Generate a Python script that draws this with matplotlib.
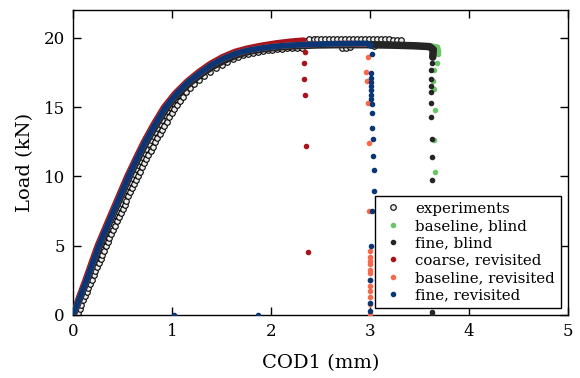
import matplotlib
matplotlib.use('Agg')
import matplotlib.pyplot as plt

# --- experiments (two overlapping rows of measured points) ---
exp_a_cod = [0.000, 0.017, 0.035, 0.052, 0.070, 0.087, 0.104, 0.122, 0.139, 0.157,
             0.174, 0.191, 0.209, 0.226, 0.244, 0.261, 0.278, 0.296, 0.315, 0.333,
             0.352, 0.370, 0.389, 0.408, 0.426, 0.445, 0.463, 0.482, 0.501, 0.519,
             0.538, 0.556, 0.575, 0.594, 0.614, 0.635, 0.656, 0.677, 0.698, 0.720,
             0.742, 0.764, 0.786, 0.808, 0.831, 0.853, 0.876, 0.900, 0.924, 0.949,
             0.975, 1.005, 1.037, 1.072, 1.110, 1.152, 1.198, 1.250, 1.305, 1.365,
             1.420, 1.480, 1.530, 1.585, 1.635, 1.690, 1.740, 1.790, 1.840, 1.890,
             1.940, 1.990, 2.040, 2.090, 2.140, 2.190, 2.240, 2.290, 2.340, 2.385,
             2.430, 2.470, 2.510, 2.550, 2.590, 2.630, 2.670, 2.710, 2.750, 2.790,
             2.830, 2.870, 2.910, 2.950, 2.990, 3.030, 3.070, 3.110, 3.150, 3.190,
             3.230, 3.270, 3.310]
exp_a_load = [0.0, 0.3, 0.6, 0.9, 1.2, 1.5, 1.8, 2.1, 2.4, 2.7,
              3.0, 3.3, 3.6, 3.9, 4.2, 4.5, 4.8, 5.1, 5.4, 5.7,
              6.0, 6.3, 6.6, 6.9, 7.2, 7.5, 7.8, 8.1, 8.4, 8.7,
              9.0, 9.3, 9.6, 9.9, 10.2, 10.5, 10.8, 11.1, 11.4, 11.7,
              12.0, 12.3, 12.6, 12.9, 13.2, 13.5, 13.8, 14.1, 14.4, 14.7,
              15.0, 15.3, 15.6, 15.9, 16.2, 16.5, 16.8, 17.1, 17.4, 17.7,
              17.95, 18.2, 18.4, 18.6, 18.75, 18.9, 19.0, 19.08, 19.15, 19.2,
              19.25, 19.29, 19.33, 19.37, 19.41, 19.46, 19.55, 19.67, 19.8, 19.88,
              19.9, 19.91, 19.92, 19.92, 19.93, 19.93, 19.93, 19.94, 19.94, 19.94,
              19.94, 19.94, 19.93, 19.93, 19.93, 19.92, 19.92, 19.91, 19.9, 19.89,
              19.87, 19.85, 19.82]

exp_b_cod = [0.050, 0.068, 0.085, 0.103, 0.120, 0.138, 0.155, 0.173, 0.190, 0.208,
             0.225, 0.243, 0.260, 0.278, 0.295, 0.313, 0.330, 0.349, 0.368, 0.387,
             0.406, 0.425, 0.444, 0.463, 0.482, 0.501, 0.520, 0.539, 0.558, 0.577,
             0.596, 0.615, 0.634, 0.654, 0.675, 0.696, 0.717, 0.739, 0.761, 0.783,
             0.805, 0.828, 0.851, 0.874, 0.897, 0.921, 0.945, 0.970, 0.995, 1.021,
             1.048, 1.078, 1.110, 1.145, 1.183, 1.225, 1.272, 1.325, 1.385, 1.440,
             1.500, 1.555, 1.615, 1.665, 1.715, 1.765, 1.815, 1.865, 1.915, 1.965,
             2.015, 2.065, 2.115, 2.165, 2.215, 2.265, 2.315, 2.720, 2.760, 2.800, 3.040]
exp_b_load = [0.15, 0.45, 0.75, 1.05, 1.35, 1.65, 1.95, 2.25, 2.55, 2.85,
              3.15, 3.45, 3.75, 4.05, 4.35, 4.65, 4.95, 5.25, 5.55, 5.85,
              6.15, 6.45, 6.75, 7.05, 7.35, 7.65, 7.95, 8.25, 8.55, 8.85,
              9.15, 9.45, 9.75, 10.05, 10.35, 10.65, 10.95, 11.25, 11.55, 11.85,
              12.15, 12.45, 12.75, 13.05, 13.35, 13.65, 13.95, 14.25, 14.55, 14.85,
              15.15, 15.45, 15.75, 16.05, 16.35, 16.65, 16.95, 17.25, 17.55, 17.8,
              18.05, 18.25, 18.45, 18.6, 18.73, 18.84, 18.93, 19.0, 19.06, 19.11,
              19.15, 19.18, 19.21, 19.23, 19.25, 19.26, 19.27, 19.25, 19.28, 19.3, 19.4]

# --- baseline, blind ---
bb_cod = [0.000, 0.072, 0.138, 0.204, 0.265, 0.340, 0.416, 0.492, 0.568, 0.652,
          0.740, 0.840, 0.948, 1.065, 1.185, 1.305, 1.420, 1.540, 1.660, 1.780,
          1.920, 2.080, 2.250, 2.450, 2.700, 2.950, 3.200, 3.450, 3.620, 3.680, 3.690]
bb_load = [0.0, 1.3, 2.5, 3.8, 5.0, 6.25, 7.5, 8.75, 10.0, 11.25,
           12.5, 13.75, 15.0, 16.0, 16.8, 17.45, 17.98, 18.42, 18.78, 19.02,
           19.2, 19.33, 19.42, 19.48, 19.5, 19.5, 19.47, 19.42, 19.38, 19.3, 19.0]
bb_drop_cod = [3.69, 3.68, 3.65, 3.64, 3.65, 3.66, 3.65, 3.66]
bb_drop_load = [18.8, 18.2, 17.7, 16.9, 16.3, 14.8, 12.6, 10.35]

# --- fine, blind ---
fb_cod = [0.000, 0.072, 0.138, 0.204, 0.265, 0.340, 0.416, 0.492, 0.568, 0.652,
          0.740, 0.840, 0.948, 1.065, 1.185, 1.305, 1.420, 1.540, 1.660, 1.780,
          1.920, 2.080, 2.250, 2.450, 2.700, 2.950, 3.200, 3.450, 3.600, 3.640, 3.635]
fb_load = [0.0, 1.3, 2.5, 3.8, 5.0, 6.25, 7.5, 8.75, 10.0, 11.25,
           12.5, 13.75, 15.0, 16.0, 16.8, 17.45, 17.98, 18.42, 18.78, 19.02,
           19.2, 19.33, 19.42, 19.48, 19.5, 19.5, 19.47, 19.42, 19.36, 19.15, 18.6]
fb_drop_cod = [3.63, 3.62, 3.62, 3.62, 3.62, 3.62, 3.62, 3.63, 3.63, 3.63,
               3.63, 3.63, 3.63, 3.63, 3.63]
fb_drop_load = [18.2, 17.7, 17.0, 16.5, 16.05, 15.3, 14.3, 12.7, 11.4, 9.75,
                7.0, 4.0, 2.0, 0.2, 0.0]

# --- coarse, revisited ---
cr_cod = [0.000, 0.060, 0.122, 0.186, 0.246, 0.320, 0.395, 0.470, 0.545, 0.628,
          0.714, 0.811, 0.917, 1.030, 1.150, 1.270, 1.390, 1.510, 1.635, 1.765,
          1.905, 2.055, 2.195, 2.330]
cr_load = [0.0, 1.3, 2.5, 3.8, 5.0, 6.25, 7.5, 8.75, 10.0, 11.25,
           12.5, 13.75, 15.0, 16.0, 16.85, 17.55, 18.15, 18.62, 19.0, 19.25,
           19.45, 19.62, 19.74, 19.82]
cr_drop_cod = [2.34, 2.33, 2.33, 2.34, 2.35, 2.37]
cr_drop_load = [19.0, 18.2, 17.0, 15.9, 12.2, 4.55]

# --- baseline, revisited ---
br_cod = [0.000, 0.070, 0.135, 0.200, 0.260, 0.335, 0.410, 0.485, 0.560, 0.643,
          0.730, 0.828, 0.935, 1.050, 1.170, 1.290, 1.400, 1.520, 1.640, 1.760,
          1.900, 2.050, 2.200, 2.400, 2.600, 2.800, 2.960]
br_load = [0.0, 1.3, 2.5, 3.8, 5.0, 6.25, 7.5, 8.75, 10.0, 11.25,
           12.5, 13.75, 15.0, 16.0, 16.85, 17.5, 18.05, 18.5, 18.85, 19.08,
           19.25, 19.38, 19.46, 19.52, 19.56, 19.58, 19.55]
br_drop_cod = [2.98, 2.96, 2.97, 2.98, 2.99, 2.99, 3.00, 3.00, 3.00, 3.00,
               3.00, 3.00, 3.00, 3.00, 3.00, 3.00, 3.00, 3.00]
br_drop_load = [18.6, 17.5, 16.9, 15.3, 12.4, 7.5, 4.6, 4.2, 3.9, 3.66,
                3.25, 3.0, 2.5, 2.1, 1.7, 1.32, 0.77, 0.1]

# --- fine, revisited ---
fr_cod = [0.000, 0.070, 0.135, 0.200, 0.260, 0.335, 0.410, 0.485, 0.560, 0.643,
          0.730, 0.828, 0.935, 1.050, 1.170, 1.290, 1.400, 1.520, 1.640, 1.760,
          1.900, 2.050, 2.200, 2.400, 2.600, 2.800, 2.980, 3.010]
fr_load = [0.0, 1.3, 2.5, 3.8, 5.0, 6.25, 7.5, 8.75, 10.0, 11.25,
           12.5, 13.75, 15.0, 16.0, 16.85, 17.5, 18.05, 18.5, 18.85, 19.08,
           19.25, 19.38, 19.46, 19.52, 19.56, 19.58, 19.58, 19.4]
fr_drop_cod = [3.02, 3.01, 3.01, 3.01, 3.01, 3.01, 3.01, 3.01, 3.02, 3.02,
               3.02, 3.03, 3.03, 3.04, 3.04, 3.02, 3.01, 3.00, 3.00, 3.00,
               1.02, 1.87]
fr_drop_load = [18.8, 17.45, 17.1, 16.8, 16.5, 16.2, 15.9, 15.6, 15.2, 14.6,
                13.5, 12.7, 11.5, 10.47, 8.95, 7.5, 5.0, 2.5, 0.9, 0.3,
                0.0, 0.0]

models = [
    ('baseline, blind', bb_cod, bb_load, bb_drop_cod, bb_drop_load, '#6cc46a', 4.6),
    ('fine, blind', fb_cod, fb_load, fb_drop_cod, fb_drop_load, '#252525', 5.4),
    ('coarse, revisited', cr_cod, cr_load, cr_drop_cod, cr_drop_load, '#a8141c', 4.2),
    ('baseline, revisited', br_cod, br_load, br_drop_cod, br_drop_load, '#f8694a', 4.2),
    ('fine, revisited', fr_cod, fr_load, fr_drop_cod, fr_drop_load, '#0b3676', 4.2),
]


def plot_cod_load():
    plt.rcParams['font.family'] = 'DejaVu Serif'
    fig = plt.figure(figsize=(5.8, 3.78), dpi=100)
    ax = fig.add_axes([0.126, 0.1667, 0.853, 0.8068])

    # experiments: light circles with black edge
    ax.plot(exp_a_cod, exp_a_load, 'o', ms=4.0, mfc='#ececec', mec='black', mew=0.8,
            label='experiments', zorder=2)
    ax.plot(exp_b_cod, exp_b_load, 'o', ms=4.0, mfc='#ececec', mec='black', mew=0.8,
            zorder=2)

    # simulations: dense dots merge into a band, drop-off points stay separate
    for i, (label, cod, load, dcod, dload, color, lw) in enumerate(models):
        z = 3 + i
        ax.plot(cod, load, '-', color=color, lw=lw, solid_capstyle='round',
                solid_joinstyle='round', zorder=z)
        ax.plot(dcod, dload, 'o', ms=3.0, color=color, mec=color, label=label, zorder=z)

    ax.set_xlim(0, 5)
    ax.set_ylim(0, 22)
    ax.set_xticks([0, 1, 2, 3, 4, 5])
    ax.set_yticks([0, 5, 10, 15, 20])
    ax.tick_params(direction='in', top=True, right=True, length=6, width=1,
                   labelsize=12, pad=6)
    for spine in ax.spines.values():
        spine.set_linewidth(1.0)

    ax.set_xlabel('COD1 (mm)', fontsize=14, labelpad=10)
    ax.set_ylabel('Load (kN)', fontsize=14, labelpad=7)

    leg = ax.legend(loc='lower right', numpoints=1, fontsize=10.8, frameon=True,
                    fancybox=False, edgecolor='black', framealpha=1,
                    handlelength=1.6, borderaxespad=0.45, labelspacing=0.22,
                    handletextpad=0.7)
    leg.get_frame().set_linewidth(1.0)
    leg.set_zorder(20)

    fig.savefig('out.png', dpi=100)


if __name__ == "__main__":
    plot_cod_load()
